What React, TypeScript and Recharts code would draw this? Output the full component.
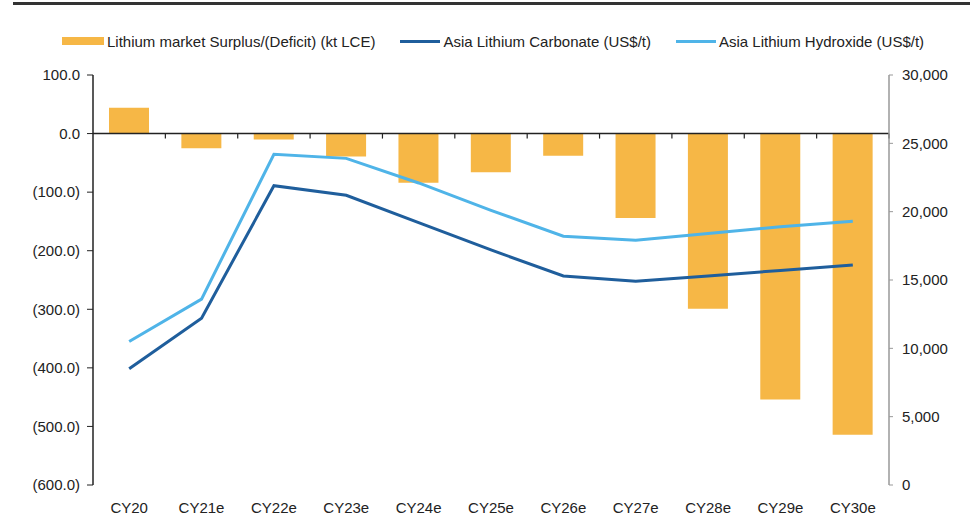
import { ComposedChart, Bar, Line, XAxis, YAxis, ReferenceLine, Legend } from "recharts";

const CATEGORIES = ["CY20", "CY21e", "CY22e", "CY23e", "CY24e", "CY25e", "CY26e", "CY27e", "CY28e", "CY29e", "CY30e"];
const SURPLUS = [44, -25, -10, -39, -84, -66, -38, -144, -299, -454, -514];
const CARBONATE = [8500, 12200, 21900, 21200, 19200, 17200, 15300, 14900, 15300, 15700, 16100];
const HYDROXIDE = [10500, 13600, 24200, 23900, 22100, 20100, 18200, 17900, 18400, 18900, 19300];

const LEFT_TICKS = [100, 0, -100, -200, -300, -400, -500, -600];
const RIGHT_TICKS = [0, 5000, 10000, 15000, 20000, 25000, 30000];

const BAR_COLOR = "#F6B746";
const DARK_BLUE = "#1F5E9C";
const LIGHT_BLUE = "#4FB4E8";
const FONT = "'Liberation Sans', Arial, sans-serif";
const TEXT = "#222";

const data = CATEGORIES.map((c, i) => ({
  name: c,
  surplus: SURPLUS[i],
  carbonate: CARBONATE[i],
  hydroxide: HYDROXIDE[i],
}));

function leftFmt(v: number): string {
  const s = Math.abs(v).toFixed(1);
  return v < 0 ? `(${s})` : s;
}

function rightFmt(v: number): string {
  return v.toLocaleString("en-US");
}

// zero line doubles as the category axis, with tick marks between categories
function ZeroAxis(props: any) {
  const { x1, y1, x2, y2 } = props;
  const n = CATEGORIES.length;
  const step = (x2 - x1) / n;
  return (
    <g>
      <line x1={x1} y1={y1} x2={x2} y2={y2} stroke="#222" strokeWidth={1.5} />
      {Array.from({ length: n }, (_, i) => {
        const x = x1 + step * (i + 1);
        return <line key={i} x1={x} x2={x} y1={y1} y2={y1 + 5} stroke="#222" strokeWidth={1.2} />;
      })}
    </g>
  );
}

const LEGEND_ITEMS = [
  { label: "Lithium market Surplus/(Deficit) (kt LCE)", color: BAR_COLOR, kind: "bar" },
  { label: "Asia Lithium Carbonate (US$/t)", color: DARK_BLUE, kind: "line" },
  { label: "Asia Lithium Hydroxide (US$/t)", color: LIGHT_BLUE, kind: "line" },
];

function LegendContent() {
  return (
    <div style={{ display: "flex", alignItems: "center", height: 20, paddingLeft: 62, gap: 25, fontFamily: FONT, fontSize: 15, color: TEXT }}>
      {LEGEND_ITEMS.map((it) => (
        <div key={it.label} style={{ display: "flex", alignItems: "center", gap: 3 }}>
          <span
            style={{
              display: "inline-block",
              width: it.kind === "bar" ? 42 : 40,
              height: it.kind === "bar" ? 8 : 3,
              background: it.color,
            }}
          />
          <span style={{ whiteSpace: "nowrap" }}>{it.label}</span>
        </div>
      ))}
    </div>
  );
}

export default function App() {
  return (
    <div style={{ position: "absolute", left: 0, top: 0, width: 975, height: 519, background: "#fff" }}>
      <div style={{ position: "absolute", left: 13, top: 2, width: 957, height: 3, background: "#333" }} />
      <ComposedChart
        width={975}
        height={519}
        data={data}
        margin={{ top: 55, right: 0, bottom: 0, left: 0 }}
        barCategoryGap={0}
      >
        <Legend verticalAlign="top" content={<LegendContent />} wrapperStyle={{ top: 31, left: 0, width: 975 }} />
        <XAxis
          dataKey="name"
          height={34}
          axisLine={false}
          tickLine={false}
          tickSize={0}
          tickMargin={17}
          interval={0}
          tick={{ fill: TEXT, fontSize: 15, fontFamily: FONT }}
        />
        <YAxis
          yAxisId="left"
          width={93}
          domain={[-600, 100]}
          ticks={LEFT_TICKS}
          allowDataOverflow
          tickFormatter={leftFmt}
          tickSize={6}
          tickMargin={7}
          axisLine={{ stroke: "#222", strokeWidth: 1.5 }}
          tickLine={{ stroke: "#222" }}
          tick={{ fill: TEXT, fontSize: 15, fontFamily: FONT }}
        />
        <YAxis
          yAxisId="right"
          orientation="right"
          width={86}
          domain={[0, 30000]}
          ticks={RIGHT_TICKS}
          tickFormatter={rightFmt}
          tickSize={4}
          tickMargin={9}
          axisLine={{ stroke: "#999", strokeWidth: 1.5 }}
          tickLine={{ stroke: "#999" }}
          tick={{ fill: TEXT, fontSize: 15, fontFamily: FONT }}
        />
        <Bar yAxisId="left" dataKey="surplus" fill={BAR_COLOR} barSize={40} isAnimationActive={false} />
        <ReferenceLine yAxisId="left" y={0} shape={ZeroAxis} />
        <Line
          yAxisId="right"
          type="linear"
          dataKey="carbonate"
          stroke={DARK_BLUE}
          strokeWidth={3}
          dot={false}
          isAnimationActive={false}
        />
        <Line
          yAxisId="right"
          type="linear"
          dataKey="hydroxide"
          stroke={LIGHT_BLUE}
          strokeWidth={3}
          dot={false}
          isAnimationActive={false}
        />
      </ComposedChart>
    </div>
  );
}
